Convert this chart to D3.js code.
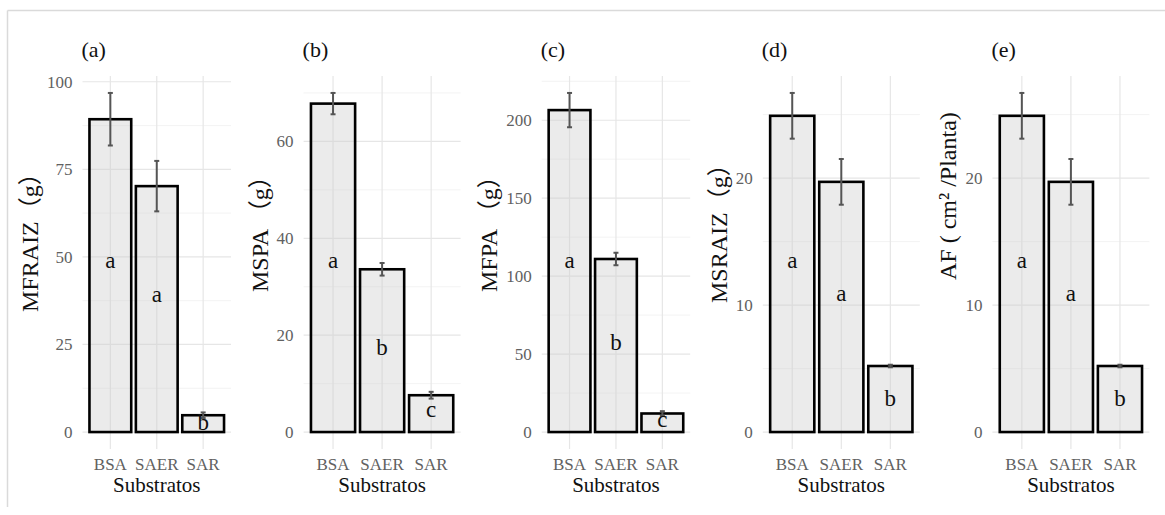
<!DOCTYPE html>
<html>
<head>
<meta charset="utf-8">
<script src="https://cdn.jsdelivr.net/npm/d3@7"></script>
<style>
  body { margin: 0; background: #fff; }
  svg text { font-family: "Liberation Serif", "Times New Roman", "Noto Sans CJK SC", serif; }
</style>
</head>
<body>
<svg id="chart" width="1165" height="515" font-family="Liberation Serif, Noto Sans CJK SC, serif"></svg>
<script>
// Substrate treatments shared by every panel
const categories = ["BSA", "SAER", "SAR"];

// Panel tags and y-axis titles
const panelTags = ["(a)", "(b)", "(c)", "(d)", "(e)"];
const yTitles = ["MFRAIZ（g）", "MSPA （g）", "MFPA （g）", "MSRAIZ（g）", "AF ( cm² /Planta)"];
const xTitle = "Substratos";

// Means, error half-widths and significance letters for each variable
const meanMFRAIZ = [89.3, 70.2, 4.8];
const errMFRAIZ = [7.5, 7.2, 0.8];
const letterMFRAIZ = ["a", "a", "b"];

const meanMSPA = [67.8, 33.6, 7.6];
const errMSPA = [2.2, 1.3, 0.7];
const letterMSPA = ["a", "b", "c"];

const meanMFPA = [206.5, 111.0, 11.9];
const errMFPA = [11.0, 4.0, 1.5];
const letterMFPA = ["a", "b", "c"];

const meanMSRAIZ = [24.9, 19.7, 5.2];
const errMSRAIZ = [1.8, 1.8, 0.1];
const letterMSRAIZ = ["a", "a", "b"];

const meanAF = [24.9, 19.7, 5.2];
const errAF = [1.8, 1.8, 0.1];
const letterAF = ["a", "a", "b"];

// Major tick values of each y axis
const ticksMFRAIZ = [0, 25, 50, 75, 100];
const ticksMSPA = [0, 20, 40, 60];
const ticksMFPA = [0, 50, 100, 150, 200];
const ticksMSRAIZ = [0, 10, 20];
const ticksAF = [0, 10, 20];

const panels = [
  { mean: meanMFRAIZ, err: errMFRAIZ, letters: letterMFRAIZ, ticks: ticksMFRAIZ },
  { mean: meanMSPA,   err: errMSPA,   letters: letterMSPA,   ticks: ticksMSPA },
  { mean: meanMFPA,   err: errMFPA,   letters: letterMFPA,   ticks: ticksMFPA },
  { mean: meanMSRAIZ, err: errMSRAIZ, letters: letterMSRAIZ, ticks: ticksMSRAIZ },
  { mean: meanAF,     err: errAF,     letters: letterAF,     ticks: ticksAF }
].map((p, i) => ({ ...p, tag: panelTags[i], title: yTitles[i] }));

// ---- layout ----
const svg = d3.select("#chart");
const serif = "Liberation Serif, Noto Sans CJK SC, serif";
const facetStart = 8, facetStep = 229.6, facetWidth = 223;
const panelTop = 76, panelBottom = 449;
const titleStartY = [312, 292, 292, 303, 280];
const tickFont = 17;

// outer frame
svg.append("line").attr("x1", 7.5).attr("x2", 1165).attr("y1", 10.5).attr("y2", 10.5)
  .attr("stroke", "#dadada").attr("stroke-width", 1.5);
svg.append("line").attr("x1", 7.5).attr("x2", 7.5).attr("y1", 10.5).attr("y2", 507)
  .attr("stroke", "#dadada").attr("stroke-width", 1.5);

// width of the widest tick label of a panel
function labelWidth(ticks) {
  const t = svg.append("text").attr("font-size", tickFont).attr("font-family", serif)
    .text(ticks.map(String).reduce((a, b) => (b.length > a.length ? b : a)));
  const w = t.node().getComputedTextLength();
  t.remove();
  return w;
}

panels.forEach((p, i) => {
  const x0 = facetStart + facetStep * i;
  const right = x0 + facetWidth;
  const left = x0 + 49 + labelWidth(p.ticks);
  const g = svg.append("g").attr("font-family", serif);

  const top = d3.max(p.mean.map((m, k) => m + p.err[k]));
  const y = d3.scaleLinear().domain([-0.05 * top, 1.05 * top]).range([panelBottom, panelTop]);
  // discrete x: 0.6 steps of padding on each side, bars 0.9 steps wide
  const x = d3.scalePoint().domain(categories).range([left, right]).padding(0.6);
  const cx = c => x(c);
  const barW = x.step() * 0.9;

  // minor grid halfway between major ticks
  const step = p.ticks[1] - p.ticks[0];
  const minor = d3.range(p.ticks[0] + step / 2, y.domain()[1], step);
  g.selectAll(".minor").data(minor).join("line")
    .attr("x1", left).attr("x2", right)
    .attr("y1", d => y(d)).attr("y2", d => y(d))
    .attr("stroke", "#f0f0f0").attr("stroke-width", 0.8);
  g.selectAll(".major").data(p.ticks).join("line")
    .attr("x1", left).attr("x2", right)
    .attr("y1", d => y(d)).attr("y2", d => y(d))
    .attr("stroke", "#e6e6e6").attr("stroke-width", 1.2);
  g.selectAll(".vmajor").data(categories).join("line")
    .attr("x1", d => cx(d)).attr("x2", d => cx(d))
    .attr("y1", panelTop).attr("y2", panelBottom)
    .attr("stroke", "#e6e6e6").attr("stroke-width", 1.2);

  // y axis labels (no axis line, no ticks)
  const yAxis = d3.axisLeft(y).tickValues(p.ticks).tickSize(0).tickPadding(10);
  const ya = g.append("g").attr("transform", `translate(${left},0)`).call(yAxis);
  ya.attr("font-family", serif);
  ya.select(".domain").remove();
  ya.selectAll("text").attr("font-size", tickFont).attr("fill", "#616161")
    .attr("font-family", serif);

  // x axis labels
  g.append("g").selectAll("text").data(categories).join("text")
    .attr("x", d => cx(d)).attr("y", 470)
    .attr("text-anchor", "middle").attr("font-size", tickFont).attr("fill", "#616161")
    .text(d => d);

  // bars
  const rows = categories.map((c, k) => ({ c, m: p.mean[k], e: p.err[k], l: p.letters[k] }));
  g.selectAll(".bar").data(rows).join("rect")
    .attr("x", d => cx(d.c) - barW / 2).attr("width", barW)
    .attr("y", d => y(d.m)).attr("height", d => y(0) - y(d.m))
    .attr("fill", "#cccccc").attr("fill-opacity", 0.4)
    .attr("stroke", "#000").attr("stroke-width", 2.6);

  // error bars
  const eb = g.selectAll(".err").data(rows).join("g");
  eb.append("line")
    .attr("x1", d => cx(d.c)).attr("x2", d => cx(d.c))
    .attr("y1", d => y(d.m - d.e)).attr("y2", d => y(d.m + d.e))
    .attr("stroke", "#555").attr("stroke-width", 2);
  [-1, 1].forEach(s => {
    eb.append("line")
      .attr("x1", d => cx(d.c) - 2.5).attr("x2", d => cx(d.c) + 2.5)
      .attr("y1", d => y(d.m + s * d.e)).attr("y2", d => y(d.m + s * d.e))
      .attr("stroke", "#555").attr("stroke-width", 2);
  });

  // significance letters, centred halfway up to the top of the error bar
  g.selectAll(".letter").data(rows).join("text")
    .attr("x", d => cx(d.c)).attr("y", d => y((d.m + d.e) / 2))
    .attr("dy", d => (d.l === "b" ? "0.34em" : "0.23em"))
    .attr("text-anchor", "middle").attr("font-size", 23).attr("fill", "#111")
    .text(d => d.l);

  // panel tag
  g.append("text").attr("x", left - 1).attr("y", 57)
    .attr("font-size", 22).attr("fill", "#111").text(p.tag);

  // axis titles
  g.append("text").attr("x", (left + right) / 2).attr("y", 492)
    .attr("text-anchor", "middle").attr("font-size", 21).attr("fill", "#111").text(xTitle);
  g.append("text")
    .attr("transform", `translate(${x0 + 30},${titleStartY[i]}) rotate(-90)`)
    .attr("font-size", 24).attr("fill", "#111").text(p.title);
});
</script>
</body>
</html>
